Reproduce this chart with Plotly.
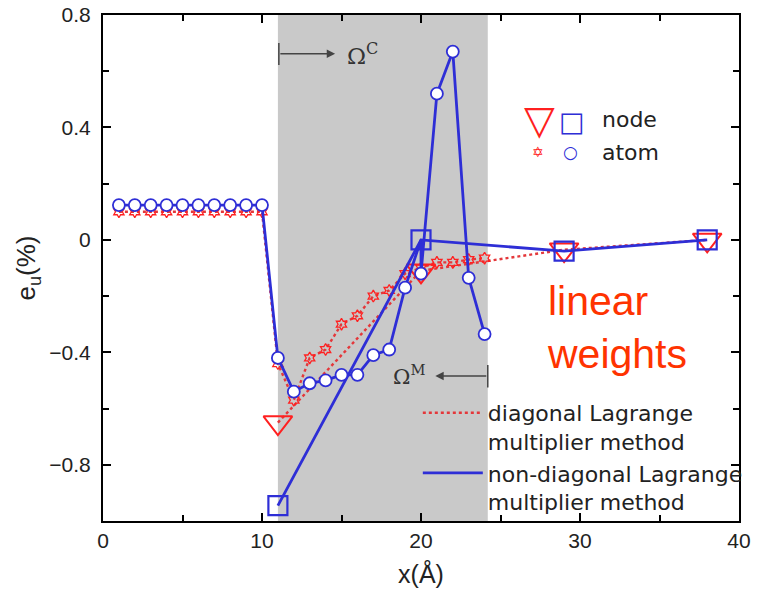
import plotly.graph_objects as go

# ---------------- data ----------------
atom_x = [1, 2, 3, 4, 5, 6, 7, 8, 9, 10, 11, 12, 13, 14, 15, 16, 17, 18, 19, 20, 21, 22, 23, 24]
blue_atom_y = [0.124, 0.124, 0.124, 0.124, 0.124, 0.124, 0.124, 0.124, 0.124, 0.124,
               -0.42, -0.54, -0.51, -0.50, -0.48, -0.48, -0.41, -0.39, -0.17, -0.12,
               0.52, 0.67, -0.135, -0.335]
red_atom_y = [0.10, 0.10, 0.10, 0.10, 0.10, 0.10, 0.10, 0.10, 0.10, 0.10,
              -0.44, -0.57, -0.42, -0.39, -0.30, -0.27, -0.20, -0.18, -0.12, -0.10,
              -0.08, -0.08, -0.07, -0.065]
node_x = [11, 20, 29, 38]
blue_node_y = [-0.945, 0.0, -0.04, 0.0]
red_node_y = [-0.65, -0.11, -0.035, 0.0]

x_tickvals = [0, 10, 20, 30, 40]
x_ticktext = ["0", "10", "20", "30", "40"]
y_tickvals = [-0.8, -0.4, 0, 0.4, 0.8]
y_ticktext = ["\u22120.8", "\u22120.4", "0", "0.4", "0.8"]

handshake_region = [11, 24.2]

# blue atom polyline passes through the coincident node at x=20
join = atom_x.index(node_x[1])
blue_path_x = atom_x[:join] + [node_x[1]] + atom_x[join:]
blue_path_y = blue_atom_y[:join] + [blue_node_y[1]] + blue_atom_y[join:]

RED = "#ff2020"
REDL = "#e4373a"
BLUE = "#2e2ed6"
FONT = "Liberation Sans, Arial, sans-serif"
LFONT = "DejaVu Sans, sans-serif"

fig = go.Figure()

# red (diagonal Lagrange multiplier)
fig.add_trace(go.Scatter(x=atom_x, y=red_atom_y, mode="lines",
                         line=dict(color=REDL, width=2.4, dash="dot"),
                         name="diagonal Lagrange<br>multiplier method"))
fig.add_trace(go.Scatter(x=node_x, y=red_node_y, mode="lines",
                         line=dict(color=REDL, width=2.4, dash="dot"), showlegend=False))
fig.add_trace(go.Scatter(x=atom_x, y=red_atom_y, mode="markers",
                         marker=dict(symbol="hexagram-open", size=9, color=RED, line=dict(width=1.3)),
                         showlegend=False))
fig.add_trace(go.Scatter(x=node_x, y=red_node_y, mode="markers",
                         marker=dict(symbol="triangle-down-open", size=25, color=RED, line=dict(width=2)),
                         showlegend=False))

# blue (non-diagonal Lagrange multiplier)
fig.add_trace(go.Scatter(x=blue_path_x, y=blue_path_y, mode="lines",
                         line=dict(color=BLUE, width=2.8),
                         name="non-diagonal Lagrange<br>multiplier method"))
fig.add_trace(go.Scatter(x=node_x, y=blue_node_y, mode="lines",
                         line=dict(color=BLUE, width=2.8), showlegend=False))
fig.add_trace(go.Scatter(x=atom_x, y=blue_atom_y, mode="markers",
                         marker=dict(symbol="circle", size=12, color="white", line=dict(color=BLUE, width=1.8)),
                         showlegend=False))
fig.add_trace(go.Scatter(x=node_x, y=blue_node_y, mode="markers",
                         marker=dict(symbol="square-open", size=19, color=BLUE, line=dict(width=2.2)),
                         showlegend=False))

shapes = [
    dict(type="rect", xref="x", yref="paper", x0=handshake_region[0], x1=handshake_region[1],
         y0=0, y1=1, fillcolor="#c9c9c9", line=dict(width=0), layer="below"),
    dict(type="line", xref="x", yref="y", x0=handshake_region[0] + 0.06, x1=handshake_region[0] + 0.06,
         y0=0.622, y1=0.70, line=dict(color="#444", width=1.5)),
    dict(type="line", xref="x", yref="y", x0=handshake_region[1], x1=handshake_region[1],
         y0=-0.445, y1=-0.525, line=dict(color="#444", width=1.5)),
]

def key(x, y, text, size, color, family=LFONT, xanchor="center"):
    return dict(x=x, y=y, xref="paper", yref="paper", text=text, showarrow=False,
                xanchor=xanchor, yanchor="middle", font=dict(family=family, size=size, color=color))

ann = [
    # Omega C arrow
    dict(x=14.6, y=0.662, ax=handshake_region[0] + 0.06, ay=0.662, xref="x", yref="y",
         axref="x", ayref="y", text="", showarrow=True, arrowhead=2, arrowsize=1.2,
         arrowwidth=1.4, arrowcolor="#444"),
    dict(x=15.2, y=0.66, xref="x", yref="y", xanchor="left", yanchor="middle",
         text="\u03a9<sup>C</sup>", showarrow=False,
         font=dict(family="DejaVu Serif, serif", size=23, color="#333")),
    # Omega M arrow
    dict(x=20.9, y=-0.484, ax=handshake_region[1], ay=-0.484, xref="x", yref="y",
         axref="x", ayref="y", text="", showarrow=True, arrowhead=2, arrowsize=1.2,
         arrowwidth=1.4, arrowcolor="#444"),
    dict(x=20.4, y=-0.48, xref="x", yref="y", xanchor="right", yanchor="middle",
         text="\u03a9<sup>M</sup>", showarrow=False,
         font=dict(family="DejaVu Serif, serif", size=21, color="#333")),
    # linear weights
    dict(x=27.8, y=-0.31, xref="x", yref="y", xanchor="left", yanchor="middle",
         text="linear<br>weights", align="left", showarrow=False,
         font=dict(family=FONT, size=41, color="#ff3300")),
    # upper key: node / atom
    key(0.686, 0.7925, "\u25bd", 40, RED),
    key(0.737, 0.7905, "\u25a1", 27, BLUE),
    key(0.782, 0.7925, "node", 22, "#222", xanchor="left"),
    key(0.684, 0.729, "\u2721", 14, RED),
    key(0.735, 0.729, "\u25cb", 17, BLUE),
    key(0.782, 0.729, "atom", 22, "#222", xanchor="left"),
]

axis_common = dict(showgrid=False, zeroline=False, showline=True, linecolor="black", linewidth=2,
                   mirror="ticks", ticks="inside", ticklen=8, tickwidth=1.5, tickcolor="black",
                   automargin=False,
                   tickfont=dict(family=FONT, size=21, color="#222"))

fig.update_layout(
    width=760, height=591,
    margin=dict(l=103, r=15, t=15, b=70),
    paper_bgcolor="white", plot_bgcolor="white",
    showlegend=True,
    legend=dict(x=0.495, y=0.255, xanchor="left", yanchor="top", bgcolor="rgba(0,0,0,0)",
                font=dict(family=LFONT, size=22, color="#222"), valign="top", itemwidth=60,
                tracegroupgap=0),
    shapes=shapes, annotations=ann,
    xaxis=dict(range=[0, 40], tickvals=x_tickvals, ticktext=x_ticktext,
               minor=dict(tickvals=[5, 15, 25, 35], ticks="inside", ticklen=6, tickcolor="black"),
               title=dict(text="x(\u00c5)", font=dict(family=FONT, size=25, color="#222"), standoff=14),
               **axis_common),
    yaxis=dict(range=[-1.0, 0.8], tickvals=y_tickvals, ticktext=y_ticktext,
               minor=dict(tickvals=[-0.6, -0.2, 0.2, 0.6], ticks="inside", ticklen=6, tickcolor="black"),
               title=dict(text="e<sub>u</sub>(%)", font=dict(family=FONT, size=26, color="#222"), standoff=6),
               ticklabelstandoff=6,
               **axis_common),
)

fig.write_html("out.html")
